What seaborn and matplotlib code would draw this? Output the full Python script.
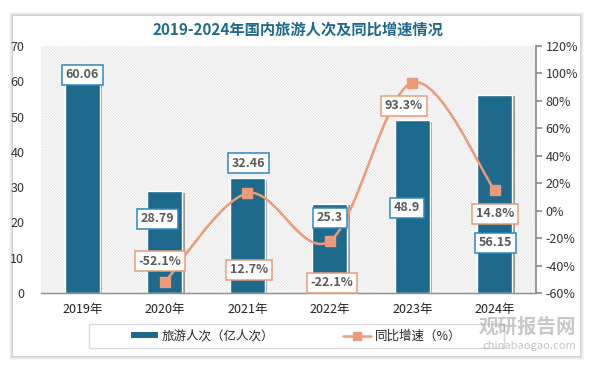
import matplotlib
matplotlib.use("Agg")
import matplotlib.pyplot as plt
import matplotlib.patheffects as pe
from matplotlib.patches import Rectangle, PathPatch
from matplotlib.path import Path
from matplotlib.lines import Line2D
from matplotlib.patches import Patch
import seaborn as sns
import pandas as pd
import numpy as np

years = ["2019年", "2020年", "2021年", "2022年", "2023年", "2024年"]
visits = [60.06, 28.79, 32.46, 25.3, 48.9, 56.15]
visit_labels = ["60.06", "28.79", "32.46", "25.3", "48.9", "56.15"]
growth_years = ["2020年", "2021年", "2022年", "2023年", "2024年"]
growth = [-52.1, 12.7, -22.1, 93.3, 14.8]
growth_labels = ["-52.1%", "12.7%", "-22.1%", "93.3%", "14.8%"]

BAR_COLOR = "#1d6a8c"
LINE_COLOR = "#e99b7a"
BOX_BLUE = "#2f86bf"
TEXT_GRAY = "#595959"

sns.set_theme(style="white")
plt.rcParams['font.family'] = ['Noto Sans CJK SC', 'DejaVu Sans']
plt.rcParams['hatch.linewidth'] = 0.45
plt.rcParams['hatch.color'] = "#d6d6d6"

fig = plt.figure(figsize=(5.93, 3.70), dpi=100)
fig.patch.set_facecolor("white")

# card with soft shadow
W, H = 593, 370
for i, a in enumerate([0.03, 0.04, 0.05, 0.06]):
    g = 4 - i
    fig.patches.append(Rectangle(((13 - g) / W, 1 - (356 + g) / H), (567 + 2 * g) / W, (340 + 2 * g) / H,
                                 transform=fig.transFigure, facecolor="black", alpha=a, lw=0, zorder=-10))
fig.patches.append(Rectangle((13 / W, 1 - 356 / H), 567 / W, 340 / H, transform=fig.transFigure,
                             facecolor="white", lw=0, zorder=-9))
# legend frame
fig.patches.append(Rectangle((89 / W, 1 - 348 / H), 415 / W, 24 / H, transform=fig.transFigure,
                             facecolor="white", edgecolor="#d9d9d9", lw=1, zorder=-8))
# hatched plot background
fig.patches.append(Rectangle((41 / W, 1 - 293 / H), 495 / W, 247 / H, transform=fig.transFigure,
                             facecolor="white", edgecolor="#d6d6d6", hatch="\\" * 12,
                             lw=0, zorder=-7))

ax = fig.add_axes([41 / W, 1 - 293 / H, 495 / W, 247 / H])
ax.set_facecolor("none")

df = pd.DataFrame({"year": years, "visits": visits})
sns.barplot(data=df, x="year", y="visits", ax=ax, color=BAR_COLOR, width=0.42,
            edgecolor="white", linewidth=1, saturation=1, zorder=2)
for bar in ax.patches:
    bar.set_path_effects([pe.SimplePatchShadow(offset=(2, -1), shadow_rgbFace="black", alpha=0.35), pe.Normal()])

ax.set_ylim(0, 70)
ax.set_yticks(range(0, 71, 10))
ax.set_xlim(-0.5, 5.5)
ax.set_xlabel("")
ax.set_ylabel("")
for s in ["top", "right", "left"]:
    ax.spines[s].set_visible(False)
ax.spines["bottom"].set_color("#8c8c8c")
ax.spines["bottom"].set_linewidth(1)
ax.tick_params(axis="y", length=0, labelsize=9, labelcolor="#333333", pad=12)
ax.tick_params(axis="x", length=0, labelsize=9, labelcolor="#222222", pad=7)

ax2 = ax.twinx()
ax2.set_ylim(-60, 120)
ax2.set_yticks(range(-60, 121, 20))
ax2.set_yticklabels([f"{v}%" for v in range(-60, 121, 20)])
for s in ["top", "left", "bottom"]:
    ax2.spines[s].set_visible(False)
ax2.spines["right"].set_color("#8c8c8c")
ax2.tick_params(axis="y", length=4, color="#8c8c8c", direction="out", labelsize=9,
                labelcolor="#333333", pad=3)

# smoothed growth line (bezier through the points, like excel's smooth line)
gx = np.array([years.index(y) for y in growth_years], dtype=float)
gy = np.array(growth, dtype=float)
pts = np.column_stack([gx, gy])
verts = [pts[0]]
codes = [Path.MOVETO]
for i in range(len(pts) - 1):
    p0 = pts[i - 1] if i > 0 else pts[i]
    p1, p2 = pts[i], pts[i + 1]
    p3 = pts[i + 2] if i + 2 < len(pts) else pts[i + 1]
    verts += [p1 + (p2 - p0) / 6, p2 - (p3 - p1) / 6, p2]
    codes += [Path.CURVE4] * 3
ax2.add_patch(PathPatch(Path(verts, codes), facecolor="none", edgecolor=LINE_COLOR, lw=1.8, zorder=3))
ax2.plot(gx, gy, linestyle="none", marker="s", markersize=6.5, color=LINE_COLOR, zorder=4)

# bar value labels (positions)
bar_lab_x = [0.0, -0.09, 0.02, 0.0, -0.06, 0.01]
bar_lab_y = [61.8, 21.0, 36.8, 21.3, 24.1, 14.2]
for i, lab in enumerate(visit_labels):
    ax2.annotate(lab, xy=(i + bar_lab_x[i], bar_lab_y[i]), xycoords=ax.transData,
                 ha="center", va="center", fontsize=9, fontweight="bold", color=TEXT_GRAY, zorder=6,
                 bbox=dict(boxstyle="square,pad=0.3", fc="white", ec=BOX_BLUE, lw=1.1))

line_lab_x = [-0.06, 0.02, 0.03, -0.1, 0.0]
line_lab_y = [-36.7, -43.2, -52.7, 76.3, -2.4]
for i, lab in enumerate(growth_labels):
    ax2.annotate(lab, xy=(gx[i] + line_lab_x[i], line_lab_y[i]), ha="center", va="center",
                 fontsize=9, fontweight="bold", color=TEXT_GRAY, zorder=6,
                 bbox=dict(boxstyle="square,pad=0.3", fc="white", ec=LINE_COLOR, lw=1.1))

fig.text(298 / W, 1 - 30 / H, "2019-2024年国内旅游人次及同比增速情况", ha="center", va="center",
         fontsize=11, fontweight="bold", color="#1f6a8a")

handles = [Patch(facecolor=BAR_COLOR, edgecolor="none"),
           Line2D([], [], color=LINE_COLOR, lw=1.8, marker="s", markersize=6)]
leg = fig.legend(handles, ["旅游人次（亿人次）", "同比增速（%）"], loc="center",
                 bbox_to_anchor=(296 / W, 1 - 336 / H), ncol=2, frameon=False,
                 fontsize=9, columnspacing=5.5, handlelength=2.2,
                 handleheight=0.4, handletextpad=0.3)

# watermark
fig.text(576 / W, 1 - 327 / H, "观研报告网", ha="right", va="center", fontsize=14,
         fontweight="bold", color="#9a9a9a", alpha=0.55)
fig.text(576 / W, 1 - 346 / H, "chinabaogao.com", ha="right", va="center", fontsize=8,
         color="#9a9a9a", alpha=0.6)

fig.savefig("out.png", dpi=100)
